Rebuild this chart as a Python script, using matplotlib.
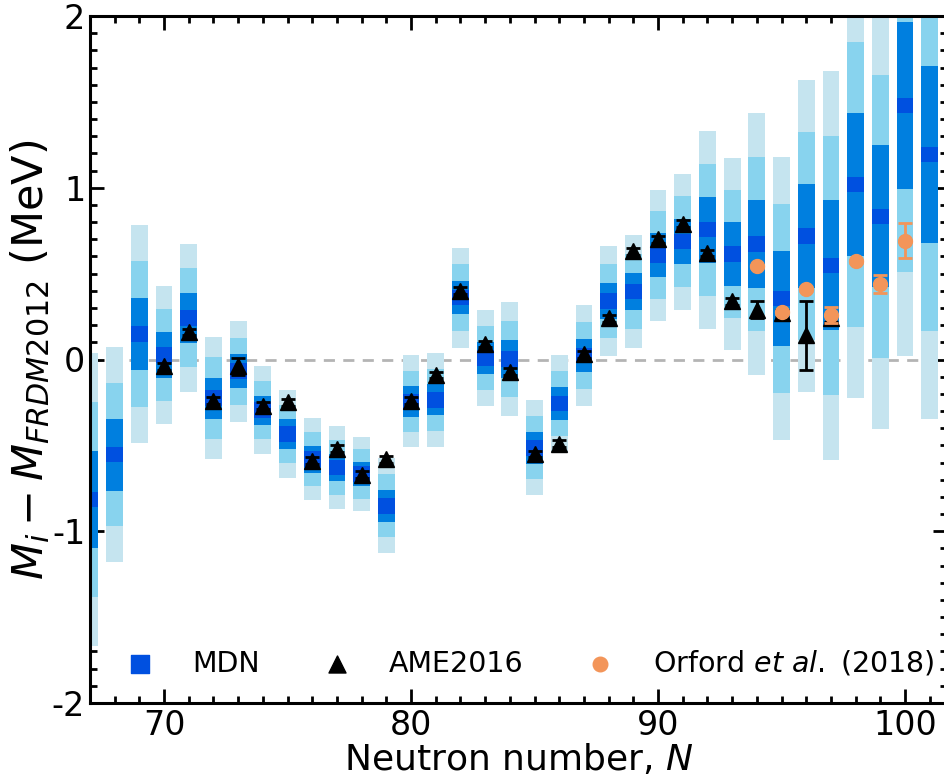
import numpy as np
import matplotlib
matplotlib.use('Agg')
import matplotlib.pyplot as plt
from matplotlib.ticker import MultipleLocator

plt.rcParams['axes.unicode_minus'] = False
plt.rcParams['mathtext.fontset'] = 'dejavusans'

# MDN predictions (centre and width per neutron number)
mdn_N = np.arange(67, 102)
mdn_mean = [-0.816, -0.554, 0.148, 0.025, 0.242, -0.225, -0.068, -0.295, -0.434, -0.580,
            -0.629, -0.666, -0.852, -0.243, -0.235, 0.360, 0.008, 0.004, -0.514, -0.256,
            0.023, 0.341, 0.395, 0.608, 0.686, 0.756, 0.613, 0.672, 0.356, 0.719,
            0.548, 1.020, 0.834, 1.480, 1.194]
mdn_std = [0.284, 0.209, 0.212, 0.134, 0.144, 0.119, 0.098, 0.085, 0.085, 0.079,
           0.080, 0.072, 0.092, 0.089, 0.091, 0.097, 0.093, 0.111, 0.092, 0.094,
           0.098, 0.107, 0.109, 0.127, 0.132, 0.192, 0.186, 0.254, 0.275, 0.303,
           0.378, 0.415, 0.412, 0.486, 0.513]

# AME2016
ame_N = np.arange(70, 98)
ame_val = [-0.04, 0.16, -0.24, -0.04, -0.27, -0.25, -0.59, -0.52, -0.67, -0.58,
           -0.24, -0.09, 0.40, 0.09, -0.07, -0.55, -0.49, 0.03, 0.24, 0.63,
           0.70, 0.79, 0.62, 0.34, 0.29, 0.27, 0.14, 0.24]
ame_err = [0.02, 0.02, 0.02, 0.05, 0.02, 0.02, 0.02, 0.02, 0.02, 0.02,
           0.02, 0.02, 0.02, 0.02, 0.02, 0.02, 0.02, 0.02, 0.02, 0.02,
           0.02, 0.02, 0.02, 0.02, 0.05, 0.02, 0.20, 0.02]

# Orford et al. (2018)
orf_N = np.arange(94, 101)
orf_val = [0.543, 0.275, 0.411, 0.258, 0.572, 0.44, 0.692]
orf_err = [0.01, 0.01, 0.01, 0.045, 0.01, 0.05, 0.10]

c_light = '#c5e4ef'
c_sky = '#88d3ee'
c_mid = '#007fdf'
c_dark = '#0050e0'
c_orange = '#f39559'

fig = plt.figure(figsize=(9.44, 7.75), dpi=100)
ax = fig.add_axes([90/944, 72/775, 857/944, 687/775])

mean = np.array(mdn_mean)
std = np.array(mdn_std)
w = 0.68
for k, col in [(3, c_light), (2, c_sky), (1, c_mid)]:
    ax.bar(mdn_N, 2*k*std, bottom=mean - k*std, width=w, color=col, linewidth=0, zorder=2)
ax.bar(mdn_N, 0.09, bottom=mean - 0.045, width=w, color=c_dark, linewidth=0, zorder=2)

ax.axhline(0, color='#b4b4b4', ls='--', lw=2, dashes=(4, 3), zorder=1)

ax.errorbar(ame_N, ame_val, yerr=ame_err, fmt='^', color='black', ms=12,
            capsize=5, elinewidth=2, capthick=2, zorder=4)
ax.errorbar(orf_N, orf_val, yerr=orf_err, fmt='o', color=c_orange, ms=10,
            capsize=5, elinewidth=2, capthick=2, zorder=5)

# legend handles
h1 = ax.scatter([], [], marker='s', s=150, color=c_dark)
h2 = ax.scatter([], [], marker='^', s=150, color='black')
h3 = ax.scatter([], [], marker='o', s=110, color=c_orange)
ax.legend([h1, h2, h3], ['MDN', 'AME2016', r'Orford $et$ $al.$ (2018)'],
          loc='lower left', ncol=3, frameon=False, fontsize=20.5,
          bbox_to_anchor=(0.042, 0.037), borderaxespad=0, borderpad=0,
          handlelength=1, handletextpad=1.33, columnspacing=2.2)

ax.set_xlim(67, 101.7)
ax.set_ylim(-2, 2)
ax.xaxis.set_major_locator(MultipleLocator(10))
ax.xaxis.set_minor_locator(MultipleLocator(1))
ax.yaxis.set_major_locator(MultipleLocator(1))
ax.yaxis.set_minor_locator(MultipleLocator(0.1))
ax.tick_params(which='both', direction='in', top=True, right=True, width=2)
ax.tick_params(which='major', length=10, labelsize=24)
ax.tick_params(which='minor', length=5)
ax.tick_params(axis='x', pad=4)
for s in ax.spines.values():
    s.set_linewidth(2.2)

ax.set_xlabel('Neutron number, $N$', fontsize=26, labelpad=0)
ax.set_ylabel('$M_i - M_{FRDM2012}$ (MeV)', fontsize=31, labelpad=0)

fig.savefig('out.png', dpi=100)
